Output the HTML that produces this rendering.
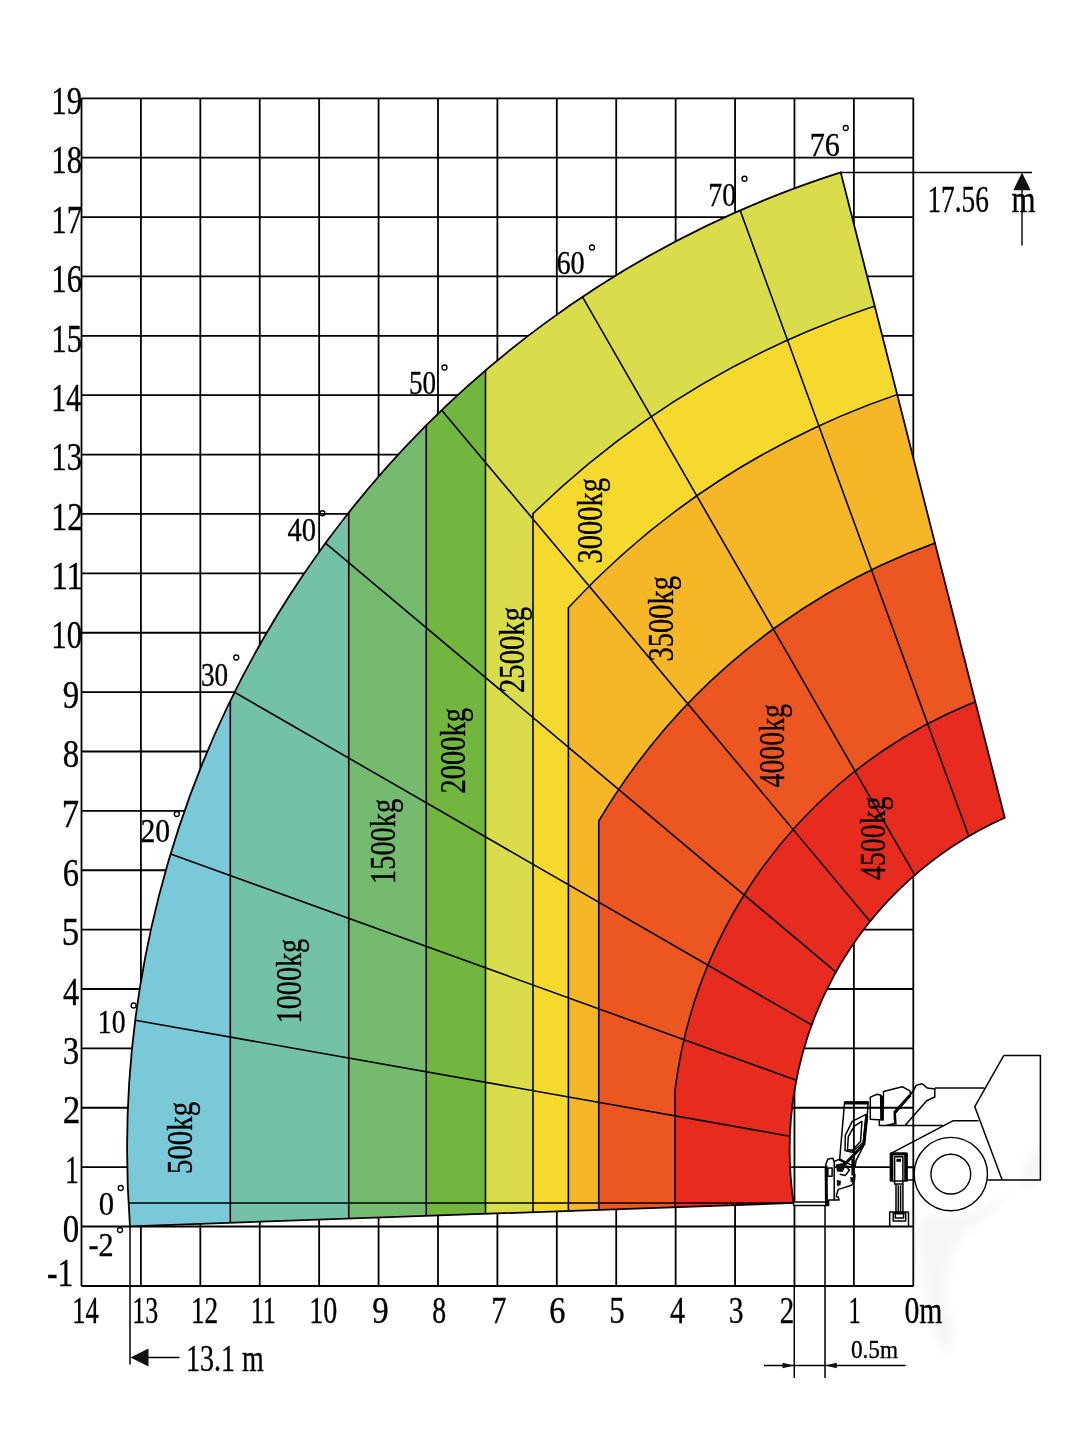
<!DOCTYPE html><html><head><meta charset="utf-8"><title>Load chart</title><style>html,body{margin:0;padding:0;background:#fff}svg{display:block}text{font-family:"Liberation Serif",serif;fill:#000;stroke:#000;stroke-width:.35px}</style></head><body><svg width="1080" height="1452" viewBox="0 0 1080 1452">
<rect width="1080" height="1452" fill="#fff"/>
<path d="M913.30 98.33V1286.00M853.89 98.33V1286.00M794.47 98.33V1286.00M735.06 98.33V1286.00M675.64 98.33V1286.00M616.23 98.33V1286.00M556.81 98.33V1286.00M497.40 98.33V1286.00M437.99 98.33V1286.00M378.57 98.33V1286.00M319.16 98.33V1286.00M259.74 98.33V1286.00M200.33 98.33V1286.00M140.91 98.33V1286.00M81.50 98.33V1286.00M81.50 1226.50H913.30M81.50 1167.12H913.30M81.50 1107.75H913.30M81.50 1048.37H913.30M81.50 988.99H913.30M81.50 929.61H913.30M81.50 870.24H913.30M81.50 810.86H913.30M81.50 751.48H913.30M81.50 692.10H913.30M81.50 632.73H913.30M81.50 573.35H913.30M81.50 513.97H913.30M81.50 454.59H913.30M81.50 395.22H913.30M81.50 335.84H913.30M81.50 276.46H913.30M81.50 217.08H913.30M81.50 157.71H913.30M81.50 98.33H913.30M81.50 1286.00H913.30" fill="none" stroke="#000" stroke-width="1.8"/>
<defs><clipPath id="c"><path d="M129.98 1226.30A1025.84 1025.84 0 0 1 840.70 172.29L1004.75 817.76A363.3 363.3 0 0 0 793.61 1203.01Z"/></clipPath></defs>
<g clip-path="url(#c)">
<path d="M129.98 1226.30A1025.84 1025.84 0 0 1 840.70 172.29L1004.75 817.76A363.3 363.3 0 0 0 793.61 1203.01Z" fill="#7AC9D8"/>
<rect x="230.3" y="0" width="1080" height="1452" fill="#73C1A7"/>
<rect x="348.75" y="0" width="1080" height="1452" fill="#75BB6F"/>
<rect x="426.25" y="0" width="1080" height="1452" fill="#73B63F"/>
<rect x="485.5" y="0" width="1080" height="1452" fill="#D9DD4B"/>
<path d="M533.0 513.68A888.0 888.0 0 1 1 533.0 1785.24Z" fill="#F6D92F"/>
<path d="M568.4 607.68A797.0 797.0 0 1 1 568.4 1691.24Z" fill="#F5B627"/>
<path d="M598.75 821.03A644.2 644.2 0 1 1 598.75 1477.89Z" fill="#EC5621"/>
<path d="M675.0 1090.20A481.6 481.6 0 1 1 675.0 1208.72Z" fill="#E72B1F"/>
<path d="M230.3 0V1452M348.75 0V1452M426.25 0V1452M485.5 0V1452M533.0 513.68A888.0 888.0 0 1 1 533.0 1785.24ZM568.4 607.68A797.0 797.0 0 1 1 568.4 1691.24ZM598.75 821.03A644.2 644.2 0 1 1 598.75 1477.89ZM675.0 1090.20A481.6 481.6 0 1 1 675.0 1208.72ZM128.50 1203.00L793.61 1203.00M135.27 1020.27L789.88 1136.23M170.60 853.91L796.28 1080.31M234.61 692.28L811.65 1024.93M325.48 543.11L835.92 972.02M441.73 410.18L870.13 921.41M582.44 296.89L914.78 875.11M740.13 210.35L968.77 836.30" fill="none" stroke="#000" stroke-width="1.6"/>
</g>
<path d="M129.98 1226.30A1025.84 1025.84 0 0 1 840.70 172.29L1004.75 817.76A363.3 363.3 0 0 0 793.61 1203.01Z" fill="none" stroke="#000" stroke-width="1.8" stroke-linejoin="miter"/>
<defs><filter id="bl" x="-30%" y="-30%" width="160%" height="160%"><feGaussianBlur stdDeviation="5"/></filter></defs><path d="M919 1216L960 1215L987 1207L1012 1191L1041 1183L1043 1150L1030 1150L1020 1185L990 1215L960 1235L950 1260L945 1300L955 1330L950 1355L935 1340L925 1300L920 1260Z" fill="#f1f1f1" filter="url(#bl)" opacity=".6"/><path d="M793.6 1202.0L827.0 1202.0L827.0 1205.5L793.6 1205.5ZM826.5 1205.4L825.8 1164.4L827.9 1158.9L832.8 1158.2L834.2 1161.7L834.2 1199.9L828.6 1199.9L828.6 1205.4ZM890.4 1153.3L907.1 1153.3L907.1 1181.1L890.4 1181.1ZM894.6 1156.8L902.9 1156.8L902.9 1183.9L894.6 1183.9ZM889.7 1211.9L908.5 1211.9L908.5 1226.2L889.7 1226.2Z" fill="#fff" stroke="#000" stroke-width="1.5" stroke-linejoin="round"/>
<path d="M827.9 1167.9L832.1 1167.9L832.1 1176.2L827.9 1176.2ZM834.2 1199.9L839.0 1199.9L838.3 1197.1L835.6 1196.4M834.2 1161.7L838.3 1159.6L843.2 1161.7L845.3 1165.8L852.2 1167.2L855.0 1175.6L854.3 1181.1L851.5 1185.3L842.5 1188.1L838.3 1189.4L836.2 1195.7M845.3 1165.8L849.4 1170.0L845.3 1175.6L839.7 1174.2M844.6 1101.9L868.2 1101.9L867.2 1115.8L864.0 1145.0L856.1 1160.3L855.0 1167.2L839.7 1158.9ZM866.1 1114.4L852.2 1121.4L845.3 1135.3L845.0 1150.6L852.2 1152.2L863.3 1142.2ZM861.9 1121.4L854.3 1126.2L848.3 1136.7L847.5 1149.4L852.2 1150.3L860.6 1141.5ZM870.3 1119.3L870.3 1097.1L877.2 1094.3L881.1 1095.3L882.1 1120.0ZM883.5 1091.5L902.2 1086.7L909.9 1090.8L910.6 1094.7L894.2 1113.1L894.7 1123.5L885.6 1125.6L879.3 1125.6L879.3 1120.0L883.1 1120.0ZM896.0 1125.6L895.3 1113.3L913.3 1090.8L916.3 1085.2L922.2 1083.7L927.4 1088.1L934.8 1088.9L934.8 1097.0L926.7 1100.7L905.2 1125.2ZM879.5 1125.6L943.0 1125.6M934.8 1088.1L984.4 1088.1M978.5 1120.7L953.3 1120.7L891.0 1153.4M896.0 1183.9L896.0 1213.1M902.9 1183.9L902.9 1213.1M898.3 1185.3L898.3 1213.1M900.6 1185.3L900.6 1213.1M893.2 1213.1L905.7 1213.1L905.7 1221.1L893.2 1221.1ZM895.3 1213.8L903.6 1213.8L903.6 1217.9L895.3 1217.9ZM907.2 1167.4L914.0 1167.4M907.2 1180.0L914.0 1180.0M1003.7 1055.6L1040.4 1055.6L1040.4 1180.0L987.4 1180.0M1002.2 1180.0L974.8 1106.7L1003.7 1055.6" fill="none" stroke="#000" stroke-width="1.5" stroke-linejoin="round"/>
<path d="M826.5 1205.4L826.1 1165.8M844.6 1102.9L868.2 1102.9M866.8 1115.8L863.8 1145.0M863.3 1145.0L841.8 1167.2M852.9 1158.9L852.9 1175.6M881.4 1095.7L881.7 1120.0M910.3 1095.0L894.4 1112.8M891.8 1154.0L891.8 1181.1M905.7 1154.0L905.7 1181.1M891.1 1154.0L906.4 1154.0M896.4 1160.3L901.1 1160.3" fill="none" stroke="#000" stroke-width="3"/>
<path d="M835.6 1164.4L842.5 1163.1L845.3 1167.2L842.5 1172.1L836.9 1171.4ZM850.1 1176.9L854.3 1177.6L854.3 1181.8L850.8 1182.5ZM836.9 1179.7L841.1 1181.1L840.4 1185.3L836.9 1186.0Z" fill="#111"/>
<circle cx="950.8" cy="1174.1" r="36.7" fill="#fff" stroke="#000" stroke-width="1.4"/>
<circle cx="950.8" cy="1174.1" r="19.9" fill="#fff" stroke="#000" stroke-width="1.4"/>
<path d="M130 1225V1364.5M148 1357.5H179.5" fill="none" stroke="#000" stroke-width="1.5"/>
<path d="M130.5 1357.5L148.5 1348.5V1366.5Z" fill="#111"/>
<path d="M840.7 172.5H1032M1022 186V245.4" fill="none" stroke="#000" stroke-width="1.4"/>
<path d="M1022 172.5L1030.7 190.3H1013.3Z" fill="#111"/>
<path d="M794.25 1285V1378M825 1205V1378M764 1365.5H905.5" fill="none" stroke="#000" stroke-width="1.5"/>
<path d="M794.25 1365.5L782.5 1362.8V1368.2ZM825 1365.5L836.8 1362.8V1368.2Z" fill="#111"/>
<text x="62.79" y="1242.20" font-size="39.5" textLength="16.45" lengthAdjust="spacingAndGlyphs">0</text>
<text x="64.92" y="1182.80" font-size="39.5" textLength="13.89" lengthAdjust="spacingAndGlyphs">1</text>
<text x="62.71" y="1123.40" font-size="39.5" textLength="17.63" lengthAdjust="spacingAndGlyphs">2</text>
<text x="62.80" y="1064.10" font-size="39.5" textLength="16.45" lengthAdjust="spacingAndGlyphs">3</text>
<text x="62.94" y="1004.70" font-size="39.5" textLength="16.12" lengthAdjust="spacingAndGlyphs">4</text>
<text x="61.76" y="945.30" font-size="39.5" textLength="17.55" lengthAdjust="spacingAndGlyphs">5</text>
<text x="62.82" y="885.90" font-size="39.5" textLength="16.27" lengthAdjust="spacingAndGlyphs">6</text>
<text x="61.75" y="826.60" font-size="39.5" textLength="17.36" lengthAdjust="spacingAndGlyphs">7</text>
<text x="62.79" y="767.20" font-size="39.5" textLength="16.45" lengthAdjust="spacingAndGlyphs">8</text>
<text x="62.79" y="707.80" font-size="39.5" textLength="16.45" lengthAdjust="spacingAndGlyphs">9</text>
<text x="51.25" y="648.40" font-size="39.5" textLength="30.82" lengthAdjust="spacingAndGlyphs">10</text>
<text x="51.13" y="589.00" font-size="39.5" textLength="32.14" lengthAdjust="spacingAndGlyphs">11</text>
<text x="51.13" y="529.70" font-size="39.5" textLength="32.14" lengthAdjust="spacingAndGlyphs">12</text>
<text x="51.25" y="470.30" font-size="39.5" textLength="30.82" lengthAdjust="spacingAndGlyphs">13</text>
<text x="51.30" y="410.90" font-size="39.5" textLength="29.76" lengthAdjust="spacingAndGlyphs">14</text>
<text x="51.24" y="351.50" font-size="39.5" textLength="30.95" lengthAdjust="spacingAndGlyphs">15</text>
<text x="51.21" y="292.20" font-size="39.5" textLength="30.86" lengthAdjust="spacingAndGlyphs">16</text>
<text x="51.21" y="232.80" font-size="39.5" textLength="30.86" lengthAdjust="spacingAndGlyphs">17</text>
<text x="51.25" y="173.40" font-size="39.5" textLength="30.82" lengthAdjust="spacingAndGlyphs">18</text>
<text x="51.24" y="114.00" font-size="39.5" textLength="30.95" lengthAdjust="spacingAndGlyphs">19</text>
<text x="46.90" y="1286.20" font-size="39.5" textLength="26.33" lengthAdjust="spacingAndGlyphs">-1</text>
<text x="72.35" y="1322.50" font-size="38.5" textLength="26.42" lengthAdjust="spacingAndGlyphs">14</text>
<text x="132.25" y="1322.50" font-size="38.5" textLength="25.90" lengthAdjust="spacingAndGlyphs">13</text>
<text x="190.98" y="1322.50" font-size="38.5" textLength="27.22" lengthAdjust="spacingAndGlyphs">12</text>
<text x="250.66" y="1322.50" font-size="38.5" textLength="25.11" lengthAdjust="spacingAndGlyphs">11</text>
<text x="309.13" y="1322.50" font-size="38.5" textLength="28.02" lengthAdjust="spacingAndGlyphs">10</text>
<text x="372.33" y="1322.50" font-size="38.5" textLength="16.42" lengthAdjust="spacingAndGlyphs">9</text>
<text x="432.25" y="1322.50" font-size="38.5" textLength="13.88" lengthAdjust="spacingAndGlyphs">8</text>
<text x="491.13" y="1322.50" font-size="38.5" textLength="15.13" lengthAdjust="spacingAndGlyphs">7</text>
<text x="549.15" y="1322.50" font-size="38.5" textLength="16.17" lengthAdjust="spacingAndGlyphs">6</text>
<text x="609.19" y="1322.50" font-size="38.5" textLength="15.42" lengthAdjust="spacingAndGlyphs">5</text>
<text x="670.00" y="1322.50" font-size="38.5" textLength="15.00" lengthAdjust="spacingAndGlyphs">4</text>
<text x="728.81" y="1322.50" font-size="38.5" textLength="14.82" lengthAdjust="spacingAndGlyphs">3</text>
<text x="779.80" y="1322.50" font-size="38.5" textLength="14.40" lengthAdjust="spacingAndGlyphs">2</text>
<text x="848.55" y="1322.50" font-size="38.5" textLength="12.21" lengthAdjust="spacingAndGlyphs">1</text>
<text x="904.49" y="1322.50" font-size="38.5" textLength="38.03" lengthAdjust="spacingAndGlyphs">0m</text>
<text x="98.82" y="1214.50" font-size="34" textLength="15.36" lengthAdjust="spacingAndGlyphs">0</text>
<text x="88.45" y="1256.00" font-size="34" textLength="25.19" lengthAdjust="spacingAndGlyphs">-2</text>
<text x="97.83" y="1033.30" font-size="34" textLength="27.74" lengthAdjust="spacingAndGlyphs">10</text>
<text x="140.44" y="841.50" font-size="34" textLength="29.63" lengthAdjust="spacingAndGlyphs">20</text>
<text x="200.91" y="685.50" font-size="34" textLength="27.17" lengthAdjust="spacingAndGlyphs">30</text>
<text x="287.46" y="541.25" font-size="34" textLength="28.58" lengthAdjust="spacingAndGlyphs">40</text>
<text x="408.91" y="393.75" font-size="34" textLength="27.17" lengthAdjust="spacingAndGlyphs">50</text>
<text x="556.45" y="273.75" font-size="34" textLength="28.31" lengthAdjust="spacingAndGlyphs">60</text>
<text x="708.35" y="206.25" font-size="34" textLength="27.74" lengthAdjust="spacingAndGlyphs">70</text>
<text x="809.78" y="155.50" font-size="34" textLength="30.16" lengthAdjust="spacingAndGlyphs">76</text>
<text x="191.70" y="1173.95" font-size="36.5" textLength="72.07" lengthAdjust="spacingAndGlyphs" transform="rotate(-90 191.70 1173.95)">500kg</text>
<text x="300.70" y="1023.41" font-size="36.5" textLength="84.64" lengthAdjust="spacingAndGlyphs" transform="rotate(-90 300.70 1023.41)">1000kg</text>
<text x="395.40" y="883.94" font-size="36.5" textLength="85.08" lengthAdjust="spacingAndGlyphs" transform="rotate(-90 395.40 883.94)">1500kg</text>
<text x="465.10" y="793.48" font-size="36.5" textLength="85.54" lengthAdjust="spacingAndGlyphs" transform="rotate(-90 465.10 793.48)">2000kg</text>
<text x="524.40" y="692.98" font-size="36.5" textLength="86.03" lengthAdjust="spacingAndGlyphs" transform="rotate(-90 524.40 692.98)">2500kg</text>
<text x="601.90" y="563.48" font-size="36.5" textLength="85.53" lengthAdjust="spacingAndGlyphs" transform="rotate(-90 601.90 563.48)">3000kg</text>
<text x="673.50" y="661.47" font-size="36.5" textLength="85.54" lengthAdjust="spacingAndGlyphs" transform="rotate(-90 673.50 661.47)">3500kg</text>
<text x="783.70" y="787.49" font-size="36.5" textLength="83.52" lengthAdjust="spacingAndGlyphs" transform="rotate(-90 783.70 787.49)">4000kg</text>
<text x="885.30" y="880.00" font-size="36.5" textLength="83.50" lengthAdjust="spacingAndGlyphs" transform="rotate(-90 885.30 880.00)">4500kg</text>
<text x="185.95" y="1371.25" font-size="38" textLength="77.80" lengthAdjust="spacingAndGlyphs">13.1 m</text>
<text x="927.38" y="211.60" font-size="38.5" textLength="61.54" lengthAdjust="spacingAndGlyphs">17.56</text>
<text x="1011.49" y="211.60" font-size="38.5" textLength="24.02" lengthAdjust="spacingAndGlyphs">m</text>
<text x="850.98" y="1357.50" font-size="26" textLength="47.02" lengthAdjust="spacingAndGlyphs">0.5m</text>
<circle cx="120.75" cy="1188" r="2.5" fill="none" stroke="#000" stroke-width="1.3"/>
<circle cx="120" cy="1230" r="2.5" fill="none" stroke="#000" stroke-width="1.3"/>
<circle cx="133.6" cy="1005.5" r="2.5" fill="none" stroke="#000" stroke-width="1.3"/>
<circle cx="176.8" cy="814" r="2.5" fill="none" stroke="#000" stroke-width="1.3"/>
<circle cx="236.25" cy="657.5" r="2.5" fill="none" stroke="#000" stroke-width="1.3"/>
<circle cx="322.5" cy="513.25" r="2.5" fill="none" stroke="#000" stroke-width="1.3"/>
<circle cx="444.5" cy="367.5" r="2.5" fill="none" stroke="#000" stroke-width="1.3"/>
<circle cx="592" cy="247.5" r="2.5" fill="none" stroke="#000" stroke-width="1.3"/>
<circle cx="744.5" cy="178.75" r="2.5" fill="none" stroke="#000" stroke-width="1.3"/>
<circle cx="845.75" cy="128" r="2.5" fill="none" stroke="#000" stroke-width="1.3"/>
</svg></body></html>
